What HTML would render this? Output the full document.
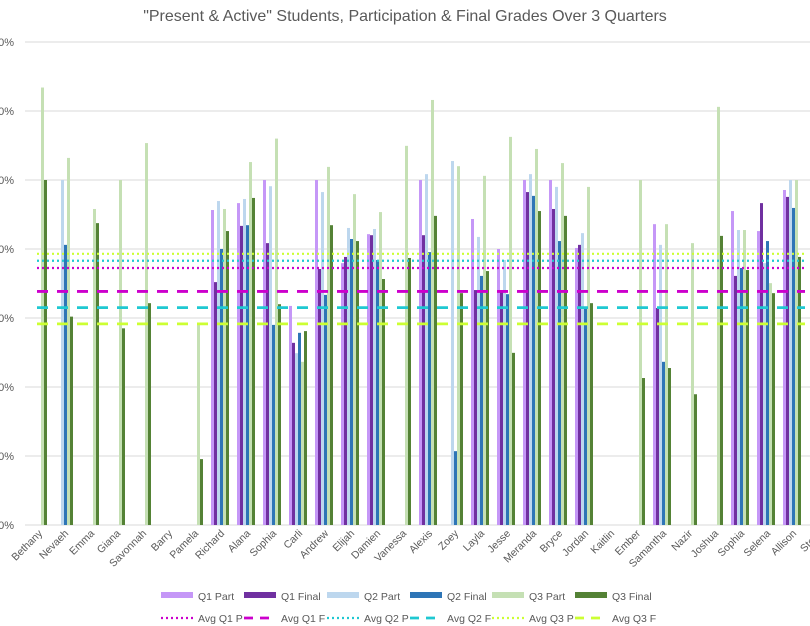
<!DOCTYPE html>
<html><head><meta charset="utf-8"><style>
body{margin:0;background:#fff;}
svg{display:block;font-family:"Liberation Sans",sans-serif;}
</style></head><body>
<svg id="chart" width="810" height="626" viewBox="0 0 810 626">
<text x="405" y="21" text-anchor="middle" font-size="16" fill="#595959">"Present &amp; Active" Students, Participation &amp; Final Grades Over 3 Quarters</text>
<g id="grid"></g><g id="bars"></g><g id="avgs"></g><g id="xlabels"></g><g id="legend"></g>
</svg>
<script>
const categories=["Bethany","Nevaeh","Emma","Giana","Savonnah","Barry","Pamela","Richard","Alana","Sophia","Carli","Andrew","Elijah","Damien","Vanessa","Alexis","Zoey","Layla","Jesse","Meranda","Bryce","Jordan","Kaitlin","Ember","Samantha","Nazir","Joshua","Sophia","Selena","Allison","Stella"];
const q1Part=[0,0,0,0,0,0,0,91.3,93.3,100,63.5,100,75.9,84.3,0,100,0,88.7,80,100,100,80.3,0,0,87.2,0,0,91,85.2,97.1,0];
const q1Final=[0,0,0,0,0,0,0,70.4,86.7,81.7,52.8,74.2,77.7,84,0,84,0,68.1,68.1,96.5,91.6,81.2,0,0,62.9,0,0,72.2,93.3,95.1,0];
const q2Part=[0,100,0,0,0,0,0,93.9,94.5,98.2,49.8,96.5,86.1,85.8,0,101.7,105.5,83.5,76.8,101.7,98,84.6,0,0,81.2,0,0,85.5,75.9,100,0];
const q2Final=[0,81.2,0,0,0,0,0,80,86.9,58,55.7,66.7,82.9,76.8,0,79.1,21.4,72.2,66.9,95.4,82.3,62.9,0,0,47.3,0,0,74.5,82.3,91.9,0];
const q3Part=[126.8,106.4,91.6,100,110.7,0,58.3,91.6,105.2,112,47.3,103.8,95.9,90.7,109.9,123.2,104,101.2,112.5,109,104.9,98,0,100,87.2,81.7,121.2,85.5,70.1,100,0];
const q3Final=[100,60.4,87.5,57,64.3,0,19.1,85.2,94.8,64,56.2,86.9,82.3,71.3,77.4,89.6,67.2,73.6,49.9,91,89.6,64.3,0,42.6,45.5,37.9,83.8,73.9,67.2,77.7,0];
const seriesNames=["Q1 Part","Q1 Final","Q2 Part","Q2 Final","Q3 Part","Q3 Final"];
const avgNames=["Avg Q1 P","Avg Q1 F","Avg Q2 P","Avg Q2 F","Avg Q3 P","Avg Q3 F"];
const avgValues=[74.5,67.7,76.6,63,78.6,58.3];
const yTicks=[0,20,40,60,80,100,120,140];
const yTickLabels=["0%","20%","40%","60%","80%","100%","120%","140%"];

const NS="http://www.w3.org/2000/svg";
const colors=["#c597f7","#7030a0","#bdd7ee","#2e75b6","#c5e0b4","#548235"];
const avgColors=["#cc00cc","#cc00cc","#1fc8d1","#1fc8d1","#ccff33","#ccff33"];
const series=[q1Part,q1Final,q2Part,q2Final,q3Part,q3Final];
const y0=525,pxPer=3.45,x0=29,band=26,bw=3;
const yS=v=>y0-v*pxPer;
const xS=i=>x0+i*band;
function mk(tag,attrs,parent){const e=document.createElementNS(NS,tag);for(const k in attrs)e.setAttribute(k,attrs[k]);parent.appendChild(e);return e;}
const grid=document.getElementById('grid');
yTicks.forEach((t,i)=>{
 const l=mk('line',{x1:25,x2:810,y1:yS(t),y2:yS(t),stroke:'#d9d9d9','stroke-width':1},grid);
 
 
 const tx=mk('text',{x:14,y:yS(t)+4,'text-anchor':'end','font-size':11,fill:'#595959'},grid);
 tx.textContent=yTickLabels[i];
 
 
});
const bars=document.getElementById('bars');
series.forEach((s,si)=>{s.forEach((v,i)=>{if(!v)return;
 const r=mk('rect',{x:xS(i)+si*bw,y:yS(v),width:bw,height:v*pxPer,fill:colors[si]},bars);
 
 
});});
const avgs=document.getElementById('avgs');
avgValues.forEach((v,i)=>{
 const dotted=i%2===0;
 const l=mk('line',{x1:37,x2:805,y1:yS(v),y2:yS(v),stroke:avgColors[i],'stroke-width':dotted?2.2:2.8,'stroke-dasharray':dotted?'2 3':'11 9'},avgs);
 
 
});
const xl=document.getElementById('xlabels');
categories.forEach((c,i)=>{
 const cx=xS(i)+9+5,cy=534;
 const t=mk('text',{x:cx,y:cy,'text-anchor':'end','font-size':10.5,fill:'#595959',transform:`rotate(-45 ${cx} ${cy})`},xl);
 t.textContent=c;
 
 
});
const lg=document.getElementById('legend');
const lx=[161,244,327,410,492,575];
seriesNames.forEach((n,i)=>{
 const g=mk('g',{},lg);
 
 
 mk('rect',{x:lx[i],y:592,width:32,height:6,fill:colors[i]},g);
 const t=mk('text',{x:lx[i]+37,y:600,'font-size':10.5,fill:'#595959'},g);t.textContent=n;
});
avgNames.forEach((n,i)=>{
 const g=mk('g',{},lg);
 
 
 const dotted=i%2===0;
 mk('line',{x1:lx[i],x2:lx[i]+32,y1:618,y2:618,stroke:avgColors[i],'stroke-width':dotted?2.2:2.8,'stroke-dasharray':dotted?'2 3':'9 7'},g);
 const t=mk('text',{x:lx[i]+37,y:622,'font-size':10.5,fill:'#595959'},g);t.textContent=n;
});
</script>
</body></html>
